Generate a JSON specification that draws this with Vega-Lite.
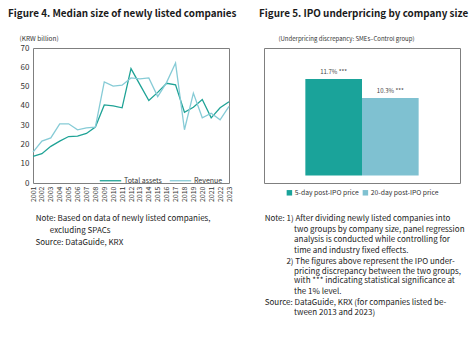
{
  "$schema": "https://vega.github.io/schema/vega-lite/v6.json",
  "background": "white",
  "padding": {"left": 7, "top": 8, "right": 4, "bottom": 4},
  "datasets": {
    "size": [
      {"year": "2001", "series": "Total assets", "value": 13.8},
      {"year": "2002", "series": "Total assets", "value": 15.2},
      {"year": "2003", "series": "Total assets", "value": 19.0},
      {"year": "2004", "series": "Total assets", "value": 21.7},
      {"year": "2005", "series": "Total assets", "value": 24.1},
      {"year": "2006", "series": "Total assets", "value": 24.3},
      {"year": "2007", "series": "Total assets", "value": 25.7},
      {"year": "2008", "series": "Total assets", "value": 29.0},
      {"year": "2009", "series": "Total assets", "value": 40.5},
      {"year": "2010", "series": "Total assets", "value": 40.0},
      {"year": "2011", "series": "Total assets", "value": 39.0},
      {"year": "2012", "series": "Total assets", "value": 59.3},
      {"year": "2013", "series": "Total assets", "value": 51.0},
      {"year": "2014", "series": "Total assets", "value": 42.8},
      {"year": "2015", "series": "Total assets", "value": 47.0},
      {"year": "2016", "series": "Total assets", "value": 51.7},
      {"year": "2017", "series": "Total assets", "value": 50.9},
      {"year": "2018", "series": "Total assets", "value": 36.7},
      {"year": "2019", "series": "Total assets", "value": 39.3},
      {"year": "2020", "series": "Total assets", "value": 43.3},
      {"year": "2021", "series": "Total assets", "value": 33.8},
      {"year": "2022", "series": "Total assets", "value": 39.0},
      {"year": "2023", "series": "Total assets", "value": 42.1},
      {"year": "2001", "series": "Revenue", "value": 16.0},
      {"year": "2002", "series": "Revenue", "value": 21.7},
      {"year": "2003", "series": "Revenue", "value": 23.4},
      {"year": "2004", "series": "Revenue", "value": 30.7},
      {"year": "2005", "series": "Revenue", "value": 30.7},
      {"year": "2006", "series": "Revenue", "value": 27.6},
      {"year": "2007", "series": "Revenue", "value": 28.6},
      {"year": "2008", "series": "Revenue", "value": 29.0},
      {"year": "2009", "series": "Revenue", "value": 52.4},
      {"year": "2010", "series": "Revenue", "value": 50.2},
      {"year": "2011", "series": "Revenue", "value": 50.7},
      {"year": "2012", "series": "Revenue", "value": 54.5},
      {"year": "2013", "series": "Revenue", "value": 54.0},
      {"year": "2014", "series": "Revenue", "value": 54.5},
      {"year": "2015", "series": "Revenue", "value": 44.8},
      {"year": "2016", "series": "Revenue", "value": 52.2},
      {"year": "2017", "series": "Revenue", "value": 62.2},
      {"year": "2018", "series": "Revenue", "value": 27.6},
      {"year": "2019", "series": "Revenue", "value": 46.6},
      {"year": "2020", "series": "Revenue", "value": 33.8},
      {"year": "2021", "series": "Revenue", "value": 36.2},
      {"year": "2022", "series": "Revenue", "value": 32.8},
      {"year": "2023", "series": "Revenue", "value": 39.7}
    ],
    "ipo": [
      {"group": "5-day post-IPO price", "value": 11.7, "label": "11.7% ***"},
      {"group": "20-day post-IPO price", "value": 10.3, "label": "10.3% ***"}
    ],
    "notes4": [
      {"line": 0, "indent": 0.34, "text": "Note: Based on data of newly listed companies,"},
      {"line": 1, "indent": 2.1, "text": "excluding SPACs"},
      {"line": 2, "indent": 0.3, "text": "Source: DataGuide, KRX"}
    ],
    "notes5": [
      {"line": 0, "indent": 0.09, "text": "Note: 1) After dividing newly listed companies into"},
      {"line": 1, "indent": 3.75, "text": "two groups by company size, panel regression"},
      {"line": 2, "indent": 3.75, "text": "analysis is conducted while controlling for"},
      {"line": 3, "indent": 3.75, "text": "time and industry fixed effects."},
      {"line": 4.07, "indent": 2.8, "text": "2) The figures above represent the IPO under-"},
      {"line": 5.02, "indent": 3.75, "text": "pricing discrepancy between the two groups,"},
      {"line": 5.95, "indent": 3.75, "text": "with *** indicating statistical significance at"},
      {"line": 6.95, "indent": 3.75, "text": "the 1% level."},
      {"line": 7.97, "indent": 0.09, "text": "Source: DataGuide, KRX (for companies listed be-"},
      {"line": 8.98, "indent": 3.75, "text": "tween 2013 and 2023)"}
    ]
  },
  "columns": 2,
  "spacing": {"row": 36, "column": 35},
  "bounds": "flush",
  "resolve": {
    "scale": {"x": "independent", "y": "independent", "color": "independent"},
    "axis": {"x": "independent", "y": "independent"},
    "legend": {"color": "independent"}
  },
  "concat": [
    {
      "width": 196,
      "height": 135,
      "title": {"text": "Figure 4. Median size of newly listed companies", "anchor": "start", "frame": "group", "dx": -25, "offset": 16, "fontSize": 9.9, "fontWeight": "bold", "color": "#1a1a1a"},
      "data": {"name": "size"},
      "mark": {"type": "line", "strokeWidth": 1.3},
      "encoding": {
        "x": {"field": "year", "type": "ordinal", "scale": {"type": "point", "padding": 0},
              "axis": {"title": null, "labelAngle": -90, "labelFontSize": 7, "ticks": false, "domain": false, "labelPadding": 3, "labelColor": "#333"}},
        "y": {"field": "value", "type": "quantitative", "scale": {"domain": [0, 70]},
              "axis": {"values": [0, 10, 20, 30, 40, 50, 60, 70], "title": "(KRW billion)", "titleAngle": 0, "titleAlign": "left", "titleX": -14, "titleY": -10, "titleBaseline": "middle", "titleFontSize": 6.5, "titleFontWeight": "normal", "titleColor": "#333", "grid": false, "ticks": false, "domain": false, "labelPadding": 4, "labelFontSize": 8, "labelColor": "#333"}},
        "color": {"field": "series", "type": "nominal", "sort": null,
                  "scale": {"domain": ["Total assets", "Revenue"], "range": ["#1fa396", "#86cbd6"]},
                  "legend": {"title": null, "orient": "none", "legendX": 66, "legendY": 121, "direction": "horizontal", "symbolType": "stroke", "symbolSize": 460, "symbolStrokeWidth": 1.3, "labelFontSize": 7, "labelColor": "#333", "columnPadding": 5, "labelOffset": 2, "padding": 0}}
      }
    },
    {
      "width": 196,
      "height": 135,
      "title": {"text": "Figure 5. IPO underpricing by company size", "anchor": "start", "frame": "group", "dx": -5, "offset": 16, "fontSize": 9.9, "fontWeight": "bold", "color": "#1a1a1a"},
      "data": {"name": "ipo"},
      "encoding": {
        "x": {"field": "group", "type": "nominal", "sort": null, "scale": {"paddingInner": 0, "paddingOuter": 0.73}, "axis": null}
      },
      "layer": [
        {
          "mark": {"type": "bar"},
          "encoding": {
            "y": {"field": "value", "type": "quantitative", "scale": {"domain": [4.55, 13.1]},
                  "axis": {"title": "(Underpricing discrepancy: SMEs\u2013Control group)", "titleAngle": 0, "titleAlign": "left", "titleX": 14, "titleY": -10, "titleBaseline": "middle", "titleFontSize": 6, "titleFontWeight": "normal", "titleColor": "#333", "labels": false, "ticks": false, "domain": false, "grid": false}},
            "y2": {"datum": 4.55},
            "color": {"field": "group", "type": "nominal", "sort": null,
                      "scale": {"domain": ["5-day post-IPO price", "20-day post-IPO price"], "range": ["#1aa39a", "#7fc1d1"]},
                      "legend": {"title": null, "orient": "none", "legendX": 22, "legendY": 141, "direction": "horizontal", "symbolType": "square", "symbolSize": 30, "symbolStrokeWidth": 0, "labelFontSize": 6.8, "labelColor": "#333", "columnPadding": 3, "labelOffset": 2, "padding": 0}}
          }
        },
        {
          "mark": {"type": "text", "dy": -7, "fontSize": 6, "color": "#444", "baseline": "middle"},
          "encoding": {
            "y": {"field": "value", "type": "quantitative"},
            "text": {"field": "label"}
          }
        }
      ]
    },
    {
      "width": 196,
      "height": 24,
      "view": {"stroke": null},
      "data": {"name": "notes4"},
      "mark": {"type": "text", "align": "left", "baseline": "middle", "fontSize": 8, "color": "#222"},
      "encoding": {
        "x": {"field": "indent", "type": "quantitative", "scale": {"domain": [0, 24.5]}, "axis": null},
        "y": {"field": "line", "type": "quantitative", "scale": {"domain": [0, 2], "reverse": true}, "axis": null},
        "text": {"field": "text"}
      }
    },
    {
      "width": 196,
      "height": 94.5,
      "view": {"stroke": null},
      "data": {"name": "notes5"},
      "mark": {"type": "text", "align": "left", "baseline": "middle", "fontSize": 8, "color": "#222"},
      "encoding": {
        "x": {"field": "indent", "type": "quantitative", "scale": {"domain": [0, 24.5]}, "axis": null},
        "y": {"field": "line", "type": "quantitative", "scale": {"domain": [0, 9], "reverse": true}, "axis": null},
        "text": {"field": "text"}
      }
    }
  ],
  "config": {
    "font": "Noto Sans CJK KR",
    "view": {"stroke": "#7f7f7f", "strokeWidth": 1}
  }
}
